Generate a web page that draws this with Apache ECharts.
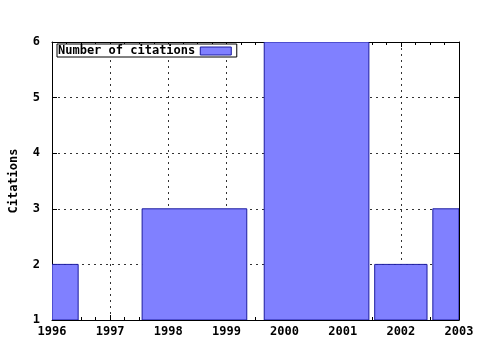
<!DOCTYPE html>
<html>
<head>
<meta charset="utf-8">
<script src="https://cdn.jsdelivr.net/npm/echarts@6/dist/echarts.min.js"></script>
<style>html,body{margin:0;padding:0;background:#fff;}#c{width:480px;height:350px;}</style>
</head>
<body>
<div id="c"></div>
<script>
// Data
const seriesName = 'Number of citations';
const binStart = [1995.55, 1997.55, 1999.65, 2001.55, 2002.55];
const binEnd   = [1996.45, 1999.35, 2001.45, 2002.45, 2003.45];
const citations = [2, 3, 6, 2, 3];
const xTicks = [1996, 1997, 1998, 1999, 2000, 2001, 2002, 2003];
const yTicks = [1, 2, 3, 4, 5, 6];

const FONT = 'DejaVu Sans Mono';
const chart = echarts.init(document.getElementById('c'), null, {renderer: 'canvas'});
const data = binStart.map((s, i) => [s, binEnd[i], citations[i]]);
const yMin = yTicks[0];

const labelStyle = {color: '#000', fontFamily: FONT, fontWeight: 'bold', fontSize: 12};
const lineStyle = {color: '#000', width: 1};
const FILL = '#8080ff', EDGE = '#1c1ca0';

chart.setOption({
  animation: false,
  backgroundColor: '#fff',
  grid: {left: 50, right: 21, top: 42, bottom: 30, show: false},
  legend: {
    left: 57, top: 44,
    align: 'right',
    data: [{name: seriesName, icon: 'rect'}],
    itemWidth: 31, itemHeight: 8,
    itemStyle: {color: FILL, borderColor: EDGE, borderWidth: 1},
    textStyle: {color: '#000', fontFamily: FONT, fontWeight: 'bold', fontSize: 12},
    borderColor: '#000', borderWidth: 1, borderRadius: 0,
    backgroundColor: '#fff',
    padding: [1, 5, 0, 1],
    itemGap: 0
  },
  xAxis: [{
    type: 'value', min: xTicks[0], max: xTicks[xTicks.length - 1], interval: 1,
    position: 'bottom',
    axisLine: {show: true, onZero: false, lineStyle},
    axisTick: {show: true, inside: true, length: 5, lineStyle},
    minorTick: {show: true, splitNumber: 4, length: 3, lineStyle},
    axisLabel: Object.assign({margin: 6, formatter: v => String(v)}, labelStyle),
    splitLine: {show: true, lineStyle: {color: '#333', type: [2, 4], width: 1}}
  }, {
    type: 'value', min: xTicks[0], max: xTicks[xTicks.length - 1], interval: 1,
    position: 'top',
    axisLine: {show: true, onZero: false, lineStyle},
    axisTick: {show: true, inside: true, length: 5, lineStyle},
    minorTick: {show: true, splitNumber: 4, length: 3, lineStyle},
    axisLabel: {show: false},
    splitLine: {show: false}
  }],
  yAxis: [{
    type: 'value', min: yMin, max: yTicks[yTicks.length - 1], interval: 1,
    position: 'left',
    name: 'Citations', nameLocation: 'middle', nameGap: 32,
    nameTextStyle: labelStyle,
    axisLine: {show: true, onZero: false, lineStyle},
    axisTick: {show: true, inside: true, length: 5, lineStyle},
    axisLabel: Object.assign({margin: 12}, labelStyle),
    splitLine: {show: true, lineStyle: {color: '#333', type: [2, 4], width: 1}}
  }, {
    type: 'value', min: yMin, max: yTicks[yTicks.length - 1], interval: 1,
    position: 'right',
    axisLine: {show: true, onZero: false, lineStyle},
    axisTick: {show: true, inside: true, length: 5, lineStyle},
    axisLabel: {show: false},
    splitLine: {show: false}
  }],
  series: [{
    name: seriesName,
    type: 'custom',
    clip: true,
    xAxisIndex: 0, yAxisIndex: 0,
    encode: {x: [0, 1], y: 2},
    itemStyle: {color: FILL, borderColor: EDGE, borderWidth: 1},
    renderItem: function (params, api) {
      const p0 = api.coord([api.value(0), api.value(2)]);
      const p1 = api.coord([api.value(1), yMin]);
      const shape = echarts.graphic.clipRectByRect({
        x: p0[0], y: p0[1], width: p1[0] - p0[0], height: p1[1] - p0[1]
      }, {
        x: params.coordSys.x, y: params.coordSys.y,
        width: params.coordSys.width, height: params.coordSys.height
      });
      return shape && {
        type: 'rect',
        shape: shape,
        style: {fill: FILL, stroke: EDGE, lineWidth: 1}
      };
    },
    data: data,
    z: 1
  }]
});
</script>
</body>
</html>
